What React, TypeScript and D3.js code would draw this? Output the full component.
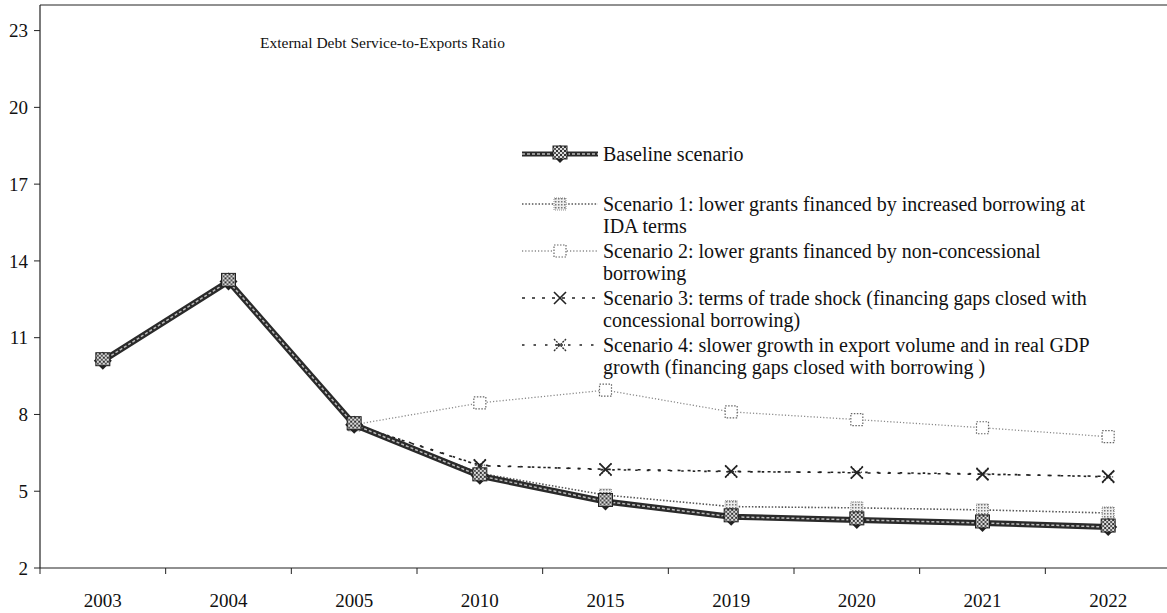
import React from "react";
import * as d3 from "d3";

const years = ["2003", "2004", "2005", "2010", "2015", "2019", "2020", "2021", "2022"];
const yTicks = [2, 5, 8, 11, 14, 17, 20, 23];
const baseline = [10.1, 13.2, 7.6, 5.6, 4.6, 4.0, 3.88, 3.76, 3.6];
const scen1 = [null, null, 7.6, 5.7, 4.85, 4.4, 4.35, 4.27, 4.15];
const scen2 = [null, null, 7.6, 8.45, 8.95, 8.1, 7.8, 7.48, 7.13];
const scen3 = [null, null, 7.6, 6.0, 5.86, 5.78, 5.72, 5.66, 5.58];
const scen4 = [null, null, 7.6, 6.02, 5.84, 5.76, 5.74, 5.68, 5.56];
const title = "External Debt Service-to-Exports Ratio";
const legendLabels = [
  ["Baseline scenario"],
  ["Scenario 1: lower grants financed by increased borrowing at", "IDA terms"],
  ["Scenario 2: lower grants financed by non-concessional", "borrowing"],
  ["Scenario 3: terms of trade shock (financing gaps closed with", "concessional borrowing)"],
  ["Scenario 4: slower growth in export volume and in real GDP", "growth (financing gaps closed with borrowing )"],
];

const W = 1167, H = 613;
const FONT = "'Liberation Serif', 'Times New Roman', serif";

type Style = { stroke: string; width: number; dash?: string; marker: string };
const styles: Style[] = [
  { stroke: "#2a2a2a", width: 6, marker: "base" },
  { stroke: "#555", width: 1.6, dash: "1.5 1.8", marker: "sq1" },
  { stroke: "#8a8a8a", width: 1.3, dash: "1.2 2", marker: "sq2" },
  { stroke: "#222", width: 1.6, dash: "3 7", marker: "x" },
  { stroke: "#222", width: 1.6, dash: "2.5 9", marker: "star" },
];

function Marker({ kind, x, y }: { kind: string; x: number; y: number }) {
  if (kind === "base") {
    return (
      <g transform={`translate(${x},${y})`}>
        <path d="M0,-9 L9,0 L0,9 L-9,0 Z" fill="#222" />
        <rect x={-7} y={-8} width={14} height={13} fill="url(#hatch)" stroke="#222" strokeWidth={1} />
      </g>
    );
  }
  if (kind === "sq1") {
    return <rect x={x - 6} y={y - 6} width={12} height={12} fill="url(#stip)" stroke="#777" strokeWidth={0.8} strokeDasharray="1 1" />;
  }
  if (kind === "sq2") {
    return <rect x={x - 6} y={y - 6} width={12} height={12} fill="#fff" stroke="#666" strokeWidth={1.2} strokeDasharray="1.5 1.5" />;
  }
  if (kind === "x") {
    return (
      <g stroke="#222" strokeWidth={1.6}>
        <line x1={x - 6} y1={y - 6} x2={x + 6} y2={y + 6} />
        <line x1={x - 6} y1={y + 6} x2={x + 6} y2={y - 6} />
      </g>
    );
  }
  return (
    <g stroke="#333" strokeWidth={1.4} strokeDasharray="2 1">
      <line x1={x - 6} y1={y - 6} x2={x + 6} y2={y + 6} />
      <line x1={x - 6} y1={y + 6} x2={x + 6} y2={y - 6} />
      <line x1={x - 5} y1={y} x2={x + 5} y2={y} />
    </g>
  );
}

export default function App() {
  const x = d3.scaleBand<string>().domain(years).range([40, 1171]).padding(0);
  const y = d3.scaleLinear().domain([2, 24]).range([568, 5]);
  const cx = (i: number) => (x(years[i]) as number) + x.bandwidth() / 2;
  const line = d3
    .line<number | null>()
    .defined((d) => d != null)
    .x((_, i) => cx(i))
    .y((d) => y(d as number));

  const series = [baseline, scen1, scen2, scen3, scen4];
  const drawOrder = [2, 4, 3, 1, 0];

  const legendX0 = 522, legendX1 = 598, legendTextX = 603;
  const legendY = [154, 204, 251, 298, 345];

  return (
    <svg width={W} height={H} style={{ position: "absolute", left: 0, top: 0, background: "#fff" }}>
      <defs>
        <pattern id="hatch" width="4" height="4" patternUnits="userSpaceOnUse">
          <rect width="4" height="4" fill="#ddd" />
          <rect width="2" height="2" fill="#333" />
          <rect x="2" y="2" width="2" height="2" fill="#555" />
        </pattern>
        <pattern id="stip" width="3" height="3" patternUnits="userSpaceOnUse">
          <rect width="3" height="3" fill="#eee" />
          <rect width="1.5" height="1.5" fill="#777" />
        </pattern>
      </defs>
      <rect width={W} height={H} fill="#fff" />
      <line x1={40} y1={5} x2={W} y2={5} stroke="#222" strokeWidth={1} />
      <line x1={40} y1={5} x2={40} y2={568} stroke="#222" strokeWidth={1.2} />
      <line x1={40} y1={568} x2={W} y2={568} stroke="#222" strokeWidth={1.2} />
      {yTicks.map((t) => (
        <g key={t}>
          <line x1={34} x2={40} y1={y(t)} y2={y(t)} stroke="#222" />
          <text x={28} y={y(t)} dy="0.35em" textAnchor="end" fontFamily={FONT} fontSize={19} fill="#111">
            {t}
          </text>
        </g>
      ))}
      {years.map((yr, i) => (
        <g key={yr}>
          <line x1={x(yr) as number} x2={x(yr) as number} y1={568} y2={574} stroke="#222" />
          <text x={cx(i)} y={600} dy="0.35em" textAnchor="middle" fontFamily={FONT} fontSize={19} fill="#111">
            {yr}
          </text>
        </g>
      ))}
      <text x={260} y={43} dy="0.35em" fontFamily={FONT} fontSize={15.5} fill="#111">
        {title}
      </text>
      {drawOrder.map((si) => {
        const s = styles[si];
        const d = line(series[si] as (number | null)[]) || "";
        return (
          <g key={si}>
            <path d={d} fill="none" stroke={s.stroke} strokeWidth={s.width} strokeDasharray={s.dash} />
            {si === 0 && <path d={d} fill="none" stroke="#bbb" strokeWidth={1.5} strokeDasharray="3 2" />}
            {series[si].map((v, i) =>
              v == null ? null : <Marker key={i} kind={s.marker} x={cx(i)} y={y(v)} />
            )}
          </g>
        );
      })}
      {legendLabels.map((lines, i) => {
        const s = styles[i];
        const ly = legendY[i];
        return (
          <g key={i}>
            <line x1={legendX0} x2={legendX1} y1={ly} y2={ly} stroke={s.stroke} strokeWidth={i === 0 ? 5 : s.width} strokeDasharray={s.dash} />
            {i === 0 && <line x1={legendX0} x2={legendX1} y1={ly} y2={ly} stroke="#bbb" strokeWidth={1.3} strokeDasharray="3 2" />}
            <Marker kind={s.marker} x={(legendX0 + legendX1) / 2} y={ly} />
            {lines.map((t, j) => (
              <text key={j} x={legendTextX} y={ly + j * 22} dy="0.35em" fontFamily={FONT} fontSize={20} fill="#111">
                {t}
              </text>
            ))}
          </g>
        );
      })}
    </svg>
  );
}
